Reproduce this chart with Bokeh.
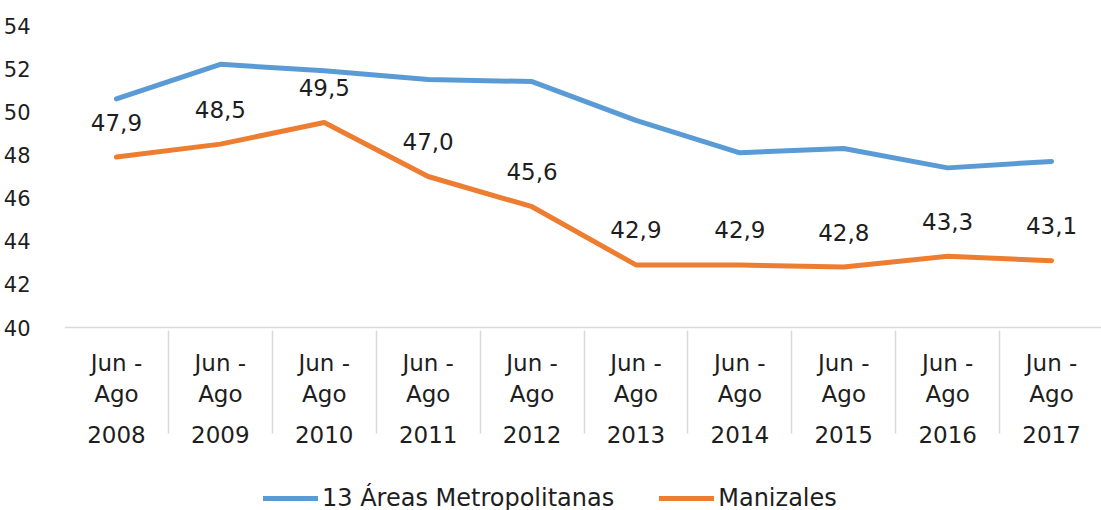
from bokeh.plotting import figure
from bokeh.models import FactorRange, ColumnDataSource, Range1d, FixedTicker, Legend, LegendItem
from bokeh.core.properties import value
from bokeh.embed import file_html
from bokeh.resources import INLINE

years = ["2008", "2009", "2010", "2011", "2012", "2013", "2014", "2015", "2016", "2017"]
period = "Jun -\nAgo"
metro = [50.6, 52.2, 51.9, 51.5, 51.4, 49.6, 48.1, 48.3, 47.4, 47.7]
manizales = [47.9, 48.5, 49.5, 47.0, 45.6, 42.9, 42.9, 42.8, 43.3, 43.1]
y_ticks = [40, 42, 44, 46, 48, 50, 52, 54]
series_names = ["13 Áreas Metropolitanas", "Manizales"]

FONT = "DejaVu Sans"
BLUE = "#5B9BD5"
ORANGE = "#ED7D31"
TXT = "#1e1e1e"

# value axis spans 40..54 over 302 px; the frame continues below 40 to hold the
# category labels and the legend (183 px)
Y_MIN, Y_MAX = 40, 54
PX_PER_UNIT = 302 / (Y_MAX - Y_MIN)
Y_START = Y_MIN - 183 / PX_PER_UNIT

factors = [(y, period) for y in years]
src = ColumnDataSource(dict(
    x=factors,
    metro=metro,
    man=manizales,
    lab=[f"{v:.1f}".replace(".", ",") for v in manizales],
))

p = figure(frame_width=1039, frame_height=485,
           x_range=FactorRange(*factors, range_padding=0, factor_padding=0, group_padding=0),
           y_range=Range1d(Y_START, Y_MAX), output_backend="svg", toolbar_location=None,
           min_border_left=62, min_border_right=0, min_border_top=25, min_border_bottom=0)
p.outline_line_color = None
p.grid.grid_line_color = None
p.background_fill_color = "white"

r1 = p.line("x", "metro", source=src, line_color=BLUE, line_width=5, line_cap="round", line_join="round")
r2 = p.line("x", "man", source=src, line_color=ORANGE, line_width=5, line_cap="round", line_join="round")
p.text("x", "man", text="lab", source=src, text_align="center", text_baseline="alphabetic", y_offset=-35,
       text_font=value(FONT), text_font_size="23px", text_color=TXT)

yax = p.yaxis[0]
yax.ticker = FixedTicker(ticks=y_ticks)
yax.axis_line_color = None
yax.major_tick_line_color = None
yax.minor_tick_line_color = None
yax.major_label_text_font = FONT
yax.major_label_text_font_size = "21px"
yax.major_label_text_color = TXT
yax.major_label_standoff = 28

xax = p.xaxis[0]
xax.fixed_location = Y_MIN
xax.axis_line_color = "#D9D9D9"
xax.axis_line_width = 1.5
xax.major_tick_line_color = None
xax.minor_tick_line_color = None
xax.major_label_text_font = FONT
xax.major_label_text_font_size = "23px"
xax.major_label_text_color = TXT
xax.major_label_orientation = "horizontal"
xax.major_label_standoff = 16
xax.group_text_font = FONT
xax.group_text_font_size = "23px"
xax.group_text_font_style = "normal"
xax.group_text_color = TXT
xax.group_label_orientation = "horizontal"
xax.separator_line_color = "#D9D9D9"
xax.separator_line_width = 1.5

legend = Legend(items=[LegendItem(label=series_names[0], renderers=[r1]),
                       LegendItem(label=series_names[1], renderers=[r2])],
                orientation="horizontal", location=(199, -2),
                label_text_font=FONT, label_text_font_size="24px", label_text_color=TXT,
                glyph_width=55, label_standoff=4, spacing=45, border_line_color=None,
                background_fill_alpha=0, padding=2, margin=0)
p.add_layout(legend, "center")

open("out.html", "w").write(file_html(p, INLINE))
